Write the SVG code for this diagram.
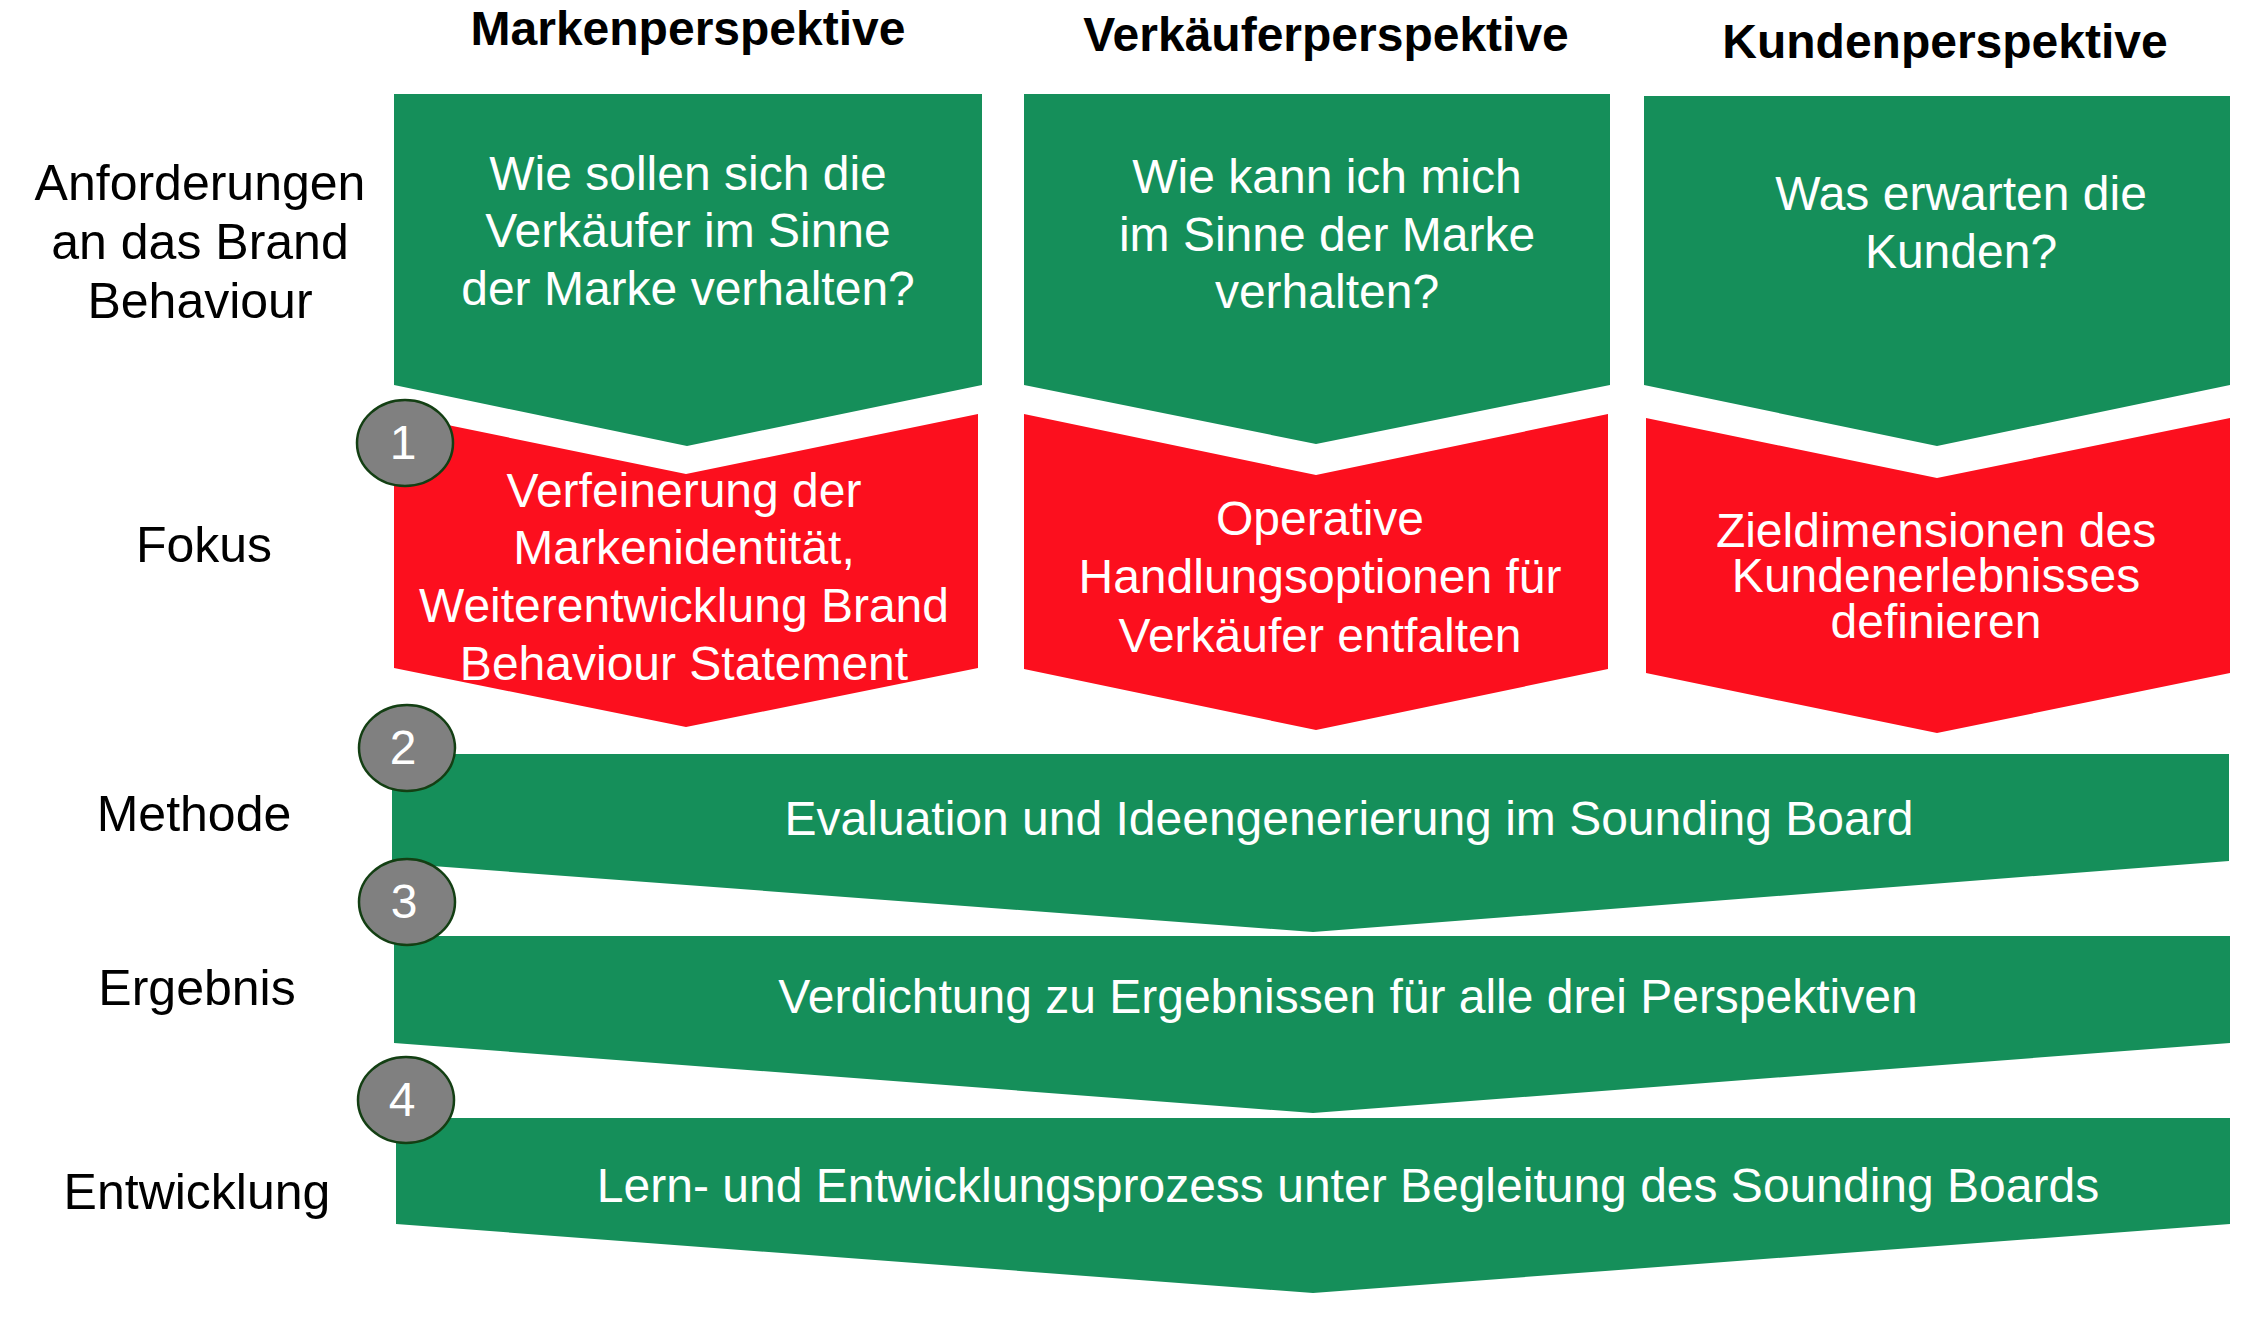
<svg xmlns="http://www.w3.org/2000/svg" width="2258" height="1342" viewBox="0 0 2258 1342">
<style>
.g{fill:#158f5a}
.r{fill:#fc0f1e}
.t{font-family:"Liberation Sans",Arial,sans-serif;font-size:48px;fill:#fff;text-anchor:middle}
.h{font-family:"Liberation Sans",Arial,sans-serif;font-size:48px;font-weight:bold;fill:#000;text-anchor:middle}
.l{font-family:"Liberation Sans",Arial,sans-serif;font-size:50px;fill:#000;text-anchor:middle}
.c{fill:#808080;stroke:#133f13;stroke-width:2.5}
</style>
<rect width="2258" height="1342" fill="#fff"/>
<g id="headers">
<text class="h" x="688" y="45">Markenperspektive</text>
<text class="h" x="1326" y="51">Verkäuferperspektive</text>
<text class="h" x="1945" y="58">Kundenperspektive</text>
</g>
<g id="row-labels">
<text class="l" x="200" y="200">Anforderungen</text>
<text class="l" x="200" y="259">an das Brand</text>
<text class="l" x="200" y="318">Behaviour</text>
<text class="l" x="204" y="562">Fokus</text>
<text class="l" x="194" y="831">Methode</text>
<text class="l" x="197" y="1005">Ergebnis</text>
<text class="l" x="197" y="1209">Entwicklung</text>
</g>
<g id="anf-marke">
<polygon class="g" points="394,94 982,94 982,385 687,446 394,385"/>
<text class="t" x="688" y="190">Wie sollen sich die</text>
<text class="t" x="688" y="247">Verkäufer im Sinne</text>
<text class="t" x="688" y="305">der Marke verhalten?</text>
</g>
<g id="anf-verkaeufer">
<polygon class="g" points="1024,94 1610,94 1610,385 1316,444 1024,385"/>
<text class="t" x="1327" y="193">Wie kann ich mich</text>
<text class="t" x="1327" y="251">im Sinne der Marke</text>
<text class="t" x="1327" y="308">verhalten?</text>
</g>
<g id="anf-kunde">
<polygon class="g" points="1644,96 2230,96 2230,385 1937,446 1644,385"/>
<text class="t" x="1961" y="210">Was erwarten die</text>
<text class="t" x="1961" y="268">Kunden?</text>
</g>
<g id="fokus-marke">
<polygon class="r" points="394,414 686,474 978,414 978,668 686,727 394,668"/>
<text class="t" x="684" y="507">Verfeinerung der</text>
<text class="t" x="684" y="564">Markenidentität,</text>
<text class="t" x="684" y="622">Weiterentwicklung Brand</text>
<text class="t" x="684" y="680">Behaviour Statement</text>
</g>
<g id="fokus-verkaeufer">
<polygon class="r" points="1024,414 1316,475 1608,414 1608,669 1316,730 1024,669"/>
<text class="t" x="1320" y="535">Operative</text>
<text class="t" x="1320" y="593">Handlungsoptionen für</text>
<text class="t" x="1320" y="652">Verkäufer entfalten</text>
</g>
<g id="fokus-kunde">
<polygon class="r" points="1646,418 1937,478 2230,418 2230,673 1937,733 1646,673"/>
<text class="t" x="1936" y="547">Zieldimensionen des</text>
<text class="t" x="1936" y="592">Kundenerlebnisses</text>
<text class="t" x="1936" y="638">definieren</text>
</g>
<g id="methode">
<polygon class="g" points="392,754 2229,754 2229,861 1313,932 392,863"/>
<text class="t" x="1349" y="835">Evaluation und Ideengenerierung im Sounding Board</text>
</g>
<g id="ergebnis">
<polygon class="g" points="394,936 2230,936 2230,1043 1313,1113 394,1043"/>
<text class="t" x="1348" y="1013">Verdichtung zu Ergebnissen für alle drei Perspektiven</text>
</g>
<g id="entwicklung">
<polygon class="g" points="396,1118 2230,1118 2230,1224 1313,1293 396,1224"/>
<text class="t" x="1348" y="1202">Lern- und Entwicklungsprozess unter Begleitung des Sounding Boards</text>
</g>
<g id="badge-1">
<ellipse class="c" cx="405" cy="443" rx="48" ry="43"/>
<text class="t" x="403" y="459">1</text>
</g>
<g id="badge-2">
<ellipse class="c" cx="407" cy="748" rx="48" ry="43"/>
<text class="t" x="403" y="764">2</text>
</g>
<g id="badge-3">
<ellipse class="c" cx="407" cy="902" rx="48" ry="43"/>
<text class="t" x="404" y="918">3</text>
</g>
<g id="badge-4">
<ellipse class="c" cx="406" cy="1100" rx="48" ry="43"/>
<text class="t" x="402" y="1116">4</text>
</g>
<g id="connectors"></g>
</svg>
